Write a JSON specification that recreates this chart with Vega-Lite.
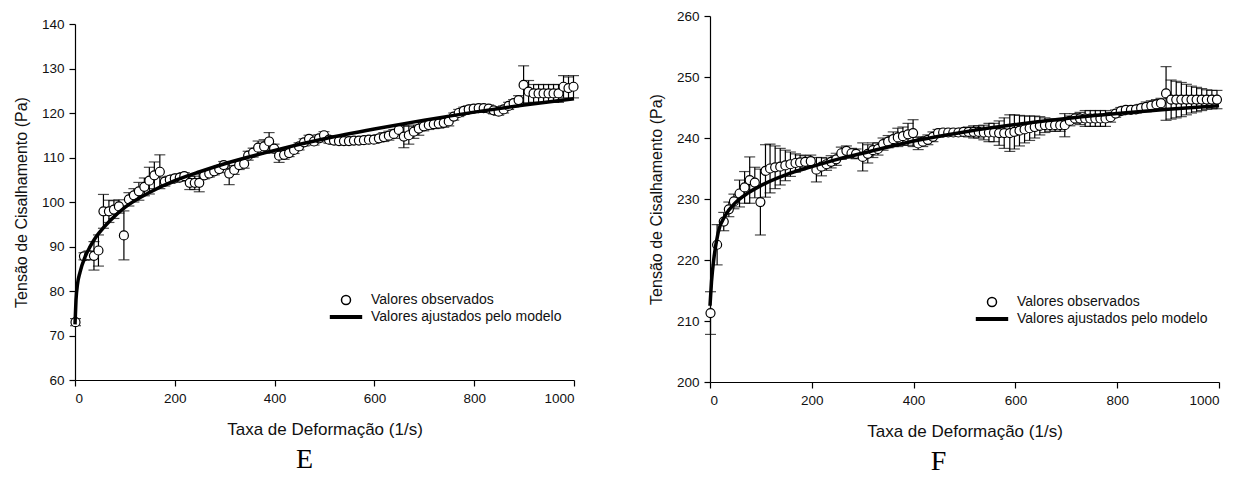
{
  "$schema": "https://vega.github.io/schema/vega-lite/v6.json",
  "padding": {"left": 13, "top": 9, "right": 5, "bottom": 5},
  "background": "white",
  "config": {
    "view": {"stroke": null},
    "font": "Liberation Sans",
    "axis": {
      "grid": false,
      "domainColor": "black",
      "domainWidth": 1.2,
      "tickColor": "black",
      "tickWidth": 1.2,
      "tickSize": 6,
      "labelFont": "Liberation Sans",
      "labelFontSize": 13.5,
      "labelColor": "#111",
      "labelPadding": 5,
      "titleFont": "Liberation Sans",
      "titleFontSize": 16,
      "titleFontWeight": "normal",
      "titleColor": "#111"
    },
    "legend": {
      "title": null,
      "padding": 0,
      "labelFont": "Liberation Sans",
      "labelFontSize": 14,
      "labelColor": "#111",
      "labelOffset": 18,
      "labelLimit": 400,
      "rowPadding": 2,
      "symbolSize": 81
    }
  },
  "datasets": {
    "obsE": [
      {"x":1,"y":73.0,"e":0.8},{"x":18,"y":87.8,"e":0.8},{"x":28,"y":88.0,"e":1.0},{"x":38,"y":87.9,"e":3.2},
      {"x":47,"y":89.1,"e":3.5},{"x":57,"y":97.9,"e":3.8},{"x":68,"y":97.9,"e":2.5},{"x":78,"y":98.3,"e":2.0},
      {"x":88,"y":99.0,"e":1.5},{"x":98,"y":92.5,"e":5.5},{"x":108,"y":100.6,"e":1.5},{"x":118,"y":101.5,"e":1.5},
      {"x":128,"y":102.4,"e":2.0},{"x":139,"y":103.4,"e":2.0},{"x":149,"y":104.8,"e":3.0},{"x":159,"y":106.0,"e":3.0},
      {"x":170,"y":106.8,"e":3.8},{"x":180,"y":104.6,"e":1.0},{"x":190,"y":105.0,"e":0.8},{"x":200,"y":105.3,"e":0.8},
      {"x":210,"y":105.5,"e":0.8},{"x":219,"y":105.8,"e":0.8},{"x":230,"y":104.3,"e":1.5},{"x":240,"y":104.3,"e":1.5},
      {"x":249,"y":104.3,"e":2.0},{"x":259,"y":106.0,"e":0.8},{"x":269,"y":106.4,"e":0.8},{"x":279,"y":106.9,"e":0.8},
      {"x":289,"y":107.4,"e":0.8},{"x":298,"y":108.3,"e":0.8},{"x":309,"y":106.4,"e":2.5},{"x":319,"y":107.2,"e":1.0},
      {"x":329,"y":108.3,"e":1.0},{"x":339,"y":108.6,"e":1.0},{"x":347,"y":110.4,"e":1.0},{"x":357,"y":111.1,"e":1.0},
      {"x":367,"y":112.2,"e":1.5},{"x":379,"y":112.5,"e":1.5},{"x":389,"y":113.6,"e":2.0},{"x":399,"y":112.0,"e":1.0},
      {"x":409,"y":110.4,"e":1.5},{"x":419,"y":110.6,"e":1.0},{"x":429,"y":111.0,"e":0.8},{"x":439,"y":111.7,"e":0.8},
      {"x":449,"y":112.5,"e":0.8},{"x":459,"y":113.4,"e":0.8},{"x":469,"y":114.2,"e":0.8},{"x":479,"y":113.6,"e":0.8},
      {"x":489,"y":114.3,"e":0.8},{"x":499,"y":115.0,"e":0.8},{"x":509,"y":114.0,"e":0.8},{"x":519,"y":113.8,"e":0.8},
      {"x":529,"y":113.7,"e":0.8},{"x":539,"y":113.7,"e":0.8},{"x":549,"y":113.7,"e":0.8},{"x":559,"y":113.8,"e":0.8},
      {"x":569,"y":113.8,"e":0.8},{"x":579,"y":113.9,"e":0.8},{"x":589,"y":114.0,"e":0.8},{"x":599,"y":114.0,"e":0.8},
      {"x":609,"y":114.3,"e":0.8},{"x":619,"y":114.6,"e":1.0},{"x":629,"y":114.9,"e":1.0},{"x":639,"y":115.3,"e":1.0},
      {"x":649,"y":116.2,"e":1.0},{"x":659,"y":114.7,"e":2.5},{"x":669,"y":115.0,"e":2.0},{"x":679,"y":115.8,"e":1.5},
      {"x":689,"y":116.5,"e":1.5},{"x":699,"y":117.0,"e":1.0},{"x":709,"y":117.3,"e":1.0},{"x":719,"y":117.5,"e":1.0},
      {"x":729,"y":117.6,"e":1.0},{"x":739,"y":117.8,"e":1.0},{"x":749,"y":118.1,"e":1.0},{"x":759,"y":119.2,"e":0.8},
      {"x":769,"y":120.0,"e":0.8},{"x":779,"y":120.5,"e":0.8},{"x":789,"y":120.8,"e":0.8},{"x":799,"y":121.0,"e":0.8},
      {"x":809,"y":121.1,"e":0.8},{"x":819,"y":121.1,"e":0.8},{"x":829,"y":121.0,"e":0.8},{"x":839,"y":120.6,"e":0.8},
      {"x":849,"y":120.3,"e":0.8},{"x":859,"y":120.8,"e":0.8},{"x":869,"y":121.6,"e":0.8},{"x":879,"y":122.2,"e":0.8},
      {"x":889,"y":122.9,"e":1.0},{"x":899,"y":126.3,"e":4.3},{"x":909,"y":124.8,"e":2.5},{"x":919,"y":124.4,"e":2.0},
      {"x":929,"y":124.4,"e":2.0},{"x":939,"y":124.4,"e":2.0},{"x":949,"y":124.4,"e":2.0},{"x":959,"y":124.4,"e":2.0},
      {"x":969,"y":124.4,"e":2.0},{"x":979,"y":125.9,"e":2.5},{"x":989,"y":125.6,"e":2.5},{"x":999,"y":125.9,"e":2.5}
    ],
    "fitE": [
      {"x":0,"y":72.5},{"x":2,"y":78.0},{"x":5,"y":81.5},{"x":10,"y":84.2},{"x":20,"y":87.6},{"x":30,"y":89.9},
      {"x":40,"y":91.8},{"x":50,"y":93.3},{"x":70,"y":95.8},{"x":100,"y":98.8},{"x":150,"y":102.2},{"x":200,"y":104.8},
      {"x":250,"y":106.8},{"x":300,"y":108.6},{"x":400,"y":111.6},{"x":500,"y":114.2},{"x":600,"y":116.4},
      {"x":700,"y":118.4},{"x":800,"y":120.2},{"x":900,"y":121.8},{"x":1000,"y":123.2}
    ],
    "obsF": [
      {"x":1,"y":211.3,"e":3.5},{"x":14,"y":222.5,"e":3.3},{"x":27,"y":226.3,"e":1.5},{"x":37,"y":228.3,"e":1.2},
      {"x":47,"y":229.6,"e":1.2},{"x":58,"y":230.9,"e":2.2},{"x":68,"y":231.9,"e":2.6},{"x":78,"y":233.1,"e":3.8},
      {"x":88,"y":232.7,"e":2.5},{"x":99,"y":229.5,"e":5.4},{"x":109,"y":234.6,"e":4.3},{"x":118,"y":235.0,"e":4.0},
      {"x":128,"y":235.2,"e":3.5},{"x":138,"y":235.3,"e":3.0},{"x":148,"y":235.5,"e":2.5},{"x":158,"y":235.7,"e":2.0},
      {"x":168,"y":235.9,"e":1.5},{"x":177,"y":236.0,"e":1.2},{"x":187,"y":236.1,"e":1.0},{"x":198,"y":236.2,"e":1.0},
      {"x":209,"y":234.8,"e":2.0},{"x":219,"y":235.3,"e":1.5},{"x":229,"y":235.7,"e":1.0},{"x":238,"y":236.1,"e":1.0},
      {"x":248,"y":236.5,"e":1.0},{"x":258,"y":237.5,"e":1.0},{"x":268,"y":237.9,"e":0.8},{"x":278,"y":237.5,"e":0.8},
      {"x":287,"y":237.4,"e":0.8},{"x":300,"y":236.9,"e":2.3},{"x":310,"y":237.4,"e":1.5},{"x":320,"y":238.0,"e":1.2},
      {"x":330,"y":238.2,"e":1.0},{"x":340,"y":239.0,"e":1.0},{"x":350,"y":239.4,"e":1.0},{"x":360,"y":239.8,"e":1.2},
      {"x":369,"y":240.1,"e":1.5},{"x":379,"y":240.3,"e":1.5},{"x":389,"y":240.6,"e":1.8},{"x":399,"y":240.8,"e":2.2},
      {"x":409,"y":239.1,"e":1.0},{"x":418,"y":239.4,"e":0.8},{"x":428,"y":239.7,"e":0.8},{"x":438,"y":240.2,"e":0.8},
      {"x":448,"y":240.8,"e":0.6},{"x":458,"y":240.9,"e":0.6},{"x":468,"y":240.9,"e":0.6},{"x":478,"y":240.9,"e":0.6},
      {"x":488,"y":240.9,"e":0.6},{"x":498,"y":241.0,"e":0.6},{"x":508,"y":241.0,"e":0.8},{"x":518,"y":241.0,"e":1.0},
      {"x":528,"y":241.0,"e":1.0},{"x":538,"y":240.9,"e":1.2},{"x":548,"y":240.9,"e":1.5},{"x":558,"y":240.9,"e":1.5},
      {"x":568,"y":240.8,"e":2.0},{"x":578,"y":240.8,"e":2.5},{"x":589,"y":240.8,"e":3.0},{"x":598,"y":241.0,"e":2.8},
      {"x":608,"y":241.2,"e":2.5},{"x":618,"y":241.4,"e":2.2},{"x":628,"y":241.6,"e":2.0},{"x":638,"y":241.8,"e":1.8},
      {"x":648,"y":242.0,"e":1.5},{"x":658,"y":242.1,"e":1.2},{"x":668,"y":242.1,"e":1.0},{"x":678,"y":242.1,"e":1.0},
      {"x":688,"y":242.1,"e":1.0},{"x":697,"y":242.1,"e":1.9},{"x":707,"y":242.8,"e":0.8},{"x":717,"y":243.2,"e":0.8},
      {"x":727,"y":243.2,"e":1.0},{"x":737,"y":243.2,"e":1.3},{"x":747,"y":243.2,"e":1.3},{"x":757,"y":243.2,"e":1.3},
      {"x":767,"y":243.2,"e":1.3},{"x":777,"y":243.2,"e":1.3},{"x":787,"y":243.4,"e":0.8},{"x":797,"y":244.0,"e":0.6},
      {"x":807,"y":244.4,"e":0.6},{"x":817,"y":244.6,"e":0.6},{"x":827,"y":244.6,"e":0.6},{"x":837,"y":244.7,"e":0.6},
      {"x":847,"y":244.9,"e":0.6},{"x":857,"y":245.1,"e":0.8},{"x":867,"y":245.3,"e":0.8},{"x":877,"y":245.5,"e":0.8},
      {"x":886,"y":245.7,"e":0.8},{"x":896,"y":247.3,"e":4.4},{"x":906,"y":246.3,"e":3.2},{"x":916,"y":246.3,"e":3.0},
      {"x":926,"y":246.3,"e":2.8},{"x":936,"y":246.3,"e":2.5},{"x":946,"y":246.3,"e":2.2},{"x":956,"y":246.3,"e":2.0},
      {"x":966,"y":246.3,"e":1.8},{"x":976,"y":246.3,"e":1.6},{"x":986,"y":246.3,"e":1.5},{"x":996,"y":246.3,"e":1.5}
    ],
    "fitF": [
      {"x":0,"y":212.5},{"x":3,"y":216.5},{"x":8,"y":220.5},{"x":16,"y":224.5},{"x":30,"y":227.3},{"x":50,"y":229.4},
      {"x":75,"y":231.0},{"x":100,"y":232.2},{"x":150,"y":234.0},{"x":200,"y":235.3},{"x":250,"y":236.5},
      {"x":300,"y":237.5},{"x":400,"y":239.5},{"x":500,"y":241.0},{"x":600,"y":242.2},{"x":700,"y":243.2},
      {"x":800,"y":244.0},{"x":900,"y":244.7},{"x":1000,"y":245.3}
    ]
  },
  "hconcat": [
    {
      "spacing": 0,
      "resolve": {"scale": {"shape": "independent"}, "legend": {"shape": "independent"}},
      "vconcat": [
        {"width": 499, "height": 1, "data": {"values": []}, "mark": "point", "encoding": {}},
        {
          "width": 499,
          "height": 356,
          "title": {"text": "E", "orient": "bottom", "font": "Liberation Serif", "fontSize": 28, "fontWeight": "normal", "color": "black", "offset": 8, "dx": -20},
          "encoding": {
            "x": {"field": "x", "type": "quantitative", "scale": {"domain": [0, 1000], "nice": false}, "axis": {"values": [0,200,400,600,800,1000], "format": "d", "title": "Taxa de Deformação (1/s)", "titleFontSize": 17, "titlePadding": 17}},
            "y": {"field": "y", "type": "quantitative", "scale": {"domain": [60, 140], "nice": false, "zero": false}, "axis": {"values": [60,70,80,90,100,110,120,130,140], "title": "Tensão de Cisalhamento (Pa)", "titlePadding": 12}}
          },
          "layer": [
            {"data": {"name": "obsE"}, "mark": {"type": "errorbar", "color": "black", "thickness": 1.2, "ticks": {"size": 11, "thickness": 1.2, "color": "black"}}, "encoding": {"yError": {"field": "e"}}},
            {"data": {"name": "obsE"}, "mark": {"type": "point", "filled": true, "fill": "white", "stroke": "black", "strokeWidth": 1.2, "size": 81, "opacity": 1},
             "encoding": {"shape": {"datum": "Valores observados", "type": "nominal",
               "scale": {"domain": ["Valores observados", "Valores ajustados pelo modelo"], "range": ["circle", "M-3.6,-0.3H3.6M-3.6,-0.1H3.6M-3.6,0.1H3.6M-3.6,0.3H3.6"]},
               "legend": {"orient": "none", "legendX": 264, "legendY": 269,
                 "encode": {"symbols": {"fill": {"value": "white"}, "stroke": {"value": "black"}, "strokeWidth": {"value": 1.2}, "size": {"value": 81}, "opacity": {"value": 1}}}}}}},
            {"data": {"name": "fitE"}, "mark": {"type": "line", "color": "black", "strokeWidth": 3.5, "interpolate": "monotone"}}
          ]
        }
      ]
    },
    {
      "width": 509,
      "height": 366,
      "title": {"text": "F", "orient": "bottom", "font": "Liberation Serif", "fontSize": 28, "fontWeight": "normal", "color": "black", "offset": 8, "dx": -26},
      "encoding": {
        "x": {"field": "x", "type": "quantitative", "scale": {"domain": [0, 1000], "nice": false}, "axis": {"values": [0,200,400,600,800,1000], "format": "d", "title": "Taxa de Deformação (1/s)", "titleFontSize": 17, "titlePadding": 17}},
        "y": {"field": "y", "type": "quantitative", "scale": {"domain": [200, 260], "nice": false, "zero": false}, "axis": {"values": [200,210,220,230,240,250,260], "title": "Tensão de Cisalhamento (Pa)", "titlePadding": 12}}
      },
      "layer": [
        {"data": {"name": "obsF"}, "mark": {"type": "errorbar", "color": "black", "thickness": 1.2, "ticks": {"size": 11, "thickness": 1.2, "color": "black"}}, "encoding": {"yError": {"field": "e"}}},
        {"data": {"name": "obsF"}, "mark": {"type": "point", "filled": true, "fill": "white", "stroke": "black", "strokeWidth": 1.2, "size": 81, "opacity": 1},
         "encoding": {"shape": {"datum": "Valores observados", "type": "nominal",
           "scale": {"domain": ["Valores observados", "Valores ajustados pelo modelo"], "range": ["circle", "M-3.6,-0.3H3.6M-3.6,-0.1H3.6M-3.6,0.1H3.6M-3.6,0.3H3.6"]},
           "legend": {"orient": "none", "legendX": 275, "legendY": 279,
             "encode": {"symbols": {"fill": {"value": "white"}, "stroke": {"value": "black"}, "strokeWidth": {"value": 1.2}, "size": {"value": 81}, "opacity": {"value": 1}}}}}}},
        {"data": {"name": "fitF"}, "mark": {"type": "line", "color": "black", "strokeWidth": 3.5, "interpolate": "monotone"}}
      ]
    }
  ],
  "spacing": 67,
  "resolve": {"scale": {"shape": "independent"}, "legend": {"shape": "independent"}}
}
